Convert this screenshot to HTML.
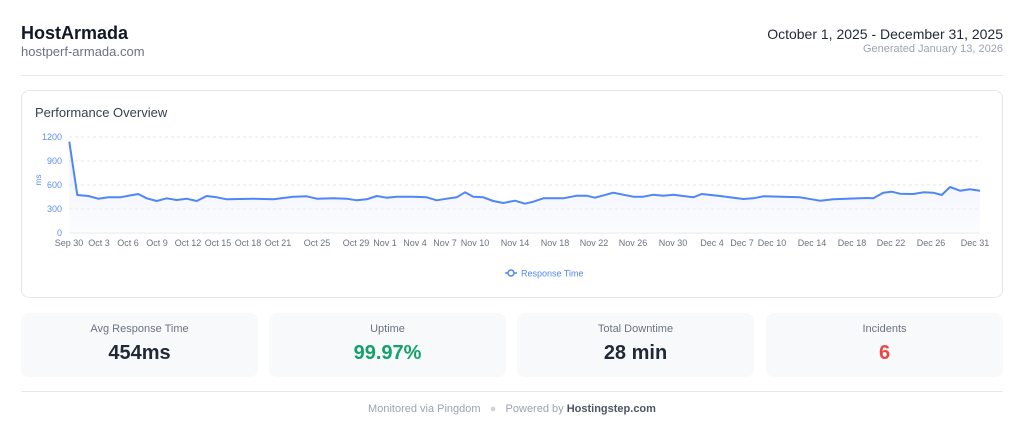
<!DOCTYPE html>
<html><head><meta charset="utf-8"><style>
*{margin:0;padding:0;box-sizing:border-box}
body{width:1024px;height:440px;background:#fff;font-family:"Liberation Sans",sans-serif;position:relative;overflow:hidden;color:#1f2937}
.a{position:absolute;white-space:nowrap}
.card{position:absolute;background:#f8f9fb;border-radius:8px;top:313px;height:64px;width:237px;text-align:center}
.card .l{position:absolute;top:10px;left:0;right:0;font-size:11px;color:#6b7280}
.card .v{position:absolute;top:29px;left:0;right:0;font-size:20px;font-weight:bold;color:#1f2937}
</style></head><body>
<div class="a" style="left:21px;top:23px;font-size:18px;font-weight:bold;color:#111827">HostArmada</div>
<div class="a" style="left:21px;top:44px;font-size:13px;color:#6b7280">hostperf-armada.com</div>
<div class="a" style="right:21px;top:26px;font-size:14px;color:#1f2937">October 1, 2025 - December 31, 2025</div>
<div class="a" style="right:21px;top:43px;font-size:11px;color:#9ca3af">Generated January 13, 2026</div>
<div class="a" style="left:21px;top:75px;width:982px;height:1px;background:#e5e7eb"></div>
<div class="a" style="left:21px;top:90px;width:982px;height:208px;border:1px solid #e5e7eb;border-radius:8px"></div>
<div class="a" style="left:35px;top:105px;font-size:13px;color:#374151">Performance Overview</div>
<svg class="a" style="left:0;top:0" width="1024" height="300" font-family="Liberation Sans, sans-serif">
<g stroke="#e5e7eb" stroke-dasharray="3,3" stroke-width="1">
<line x1="69" x2="980" y1="137" y2="137"/><line x1="69" x2="980" y1="161" y2="161"/><line x1="69" x2="980" y1="185" y2="185"/><line x1="69" x2="980" y1="209" y2="209"/></g>
<line x1="69" x2="980" y1="233" y2="233" stroke="#e5e7eb"/>
<g fill="#5b8def" font-size="9" text-anchor="end">
<text x="62" y="140">1200</text><text x="62" y="164">900</text><text x="62" y="188">600</text><text x="62" y="212">300</text><text x="62" y="236">0</text></g>
<text x="41" y="180" fill="#5b8def" font-size="8" text-anchor="middle" transform="rotate(-90 41 180)">ms</text>
<defs><linearGradient id="g" x1="0" y1="0" x2="0" y2="1"><stop offset="0" stop-color="#dfe6fb" stop-opacity=".7"/><stop offset="1" stop-color="#f3f5fc" stop-opacity=".3"/></linearGradient></defs>
<path fill="url(#g)" d="M69.3,141.7 L77.3,195 88.3,196 98.3,198.7 108.3,197.3 120,197.3 138.3,194 146.7,198.3 156.7,201 166.7,198.3 176.7,200 186.7,198.7 196.7,201 206.7,196 216.7,197.3 226.7,199.3 253.3,198.7 273.3,199.3 293.3,196.7 306.7,196.3 316.7,198.7 333.3,198.3 346.7,198.7 356.7,200.3 366.7,199.3 376.7,196 386.7,197.7 396.7,196.7 413.3,196.7 426.7,197.3 436.7,200.3 446.7,198.7 456.7,197.3 465,192.3 473.3,196.7 483.3,197.3 493.3,201 503.3,203 515,200.7 525,203.7 533.3,201.7 543.3,198.3 563.3,198.3 576.7,195.7 586.7,195.7 595,197.7 613.3,192.7 633.3,196.7 643.3,196.7 653.3,194.7 663.3,195.7 673.3,194.7 693.3,197.3 701.7,194 720,196 743.3,199 753.3,198.3 763.3,196.3 800,197.3 820,200.7 833.3,199.3 866.7,198 873.3,198.3 883.3,192.7 891.7,191.7 900,193.7 913.3,194 923.3,192.3 933.3,192.7 941.7,195 950,187 960,190.7 970,189.3 980,190.7 L980,233 L69.3,233 Z"/>
<polyline fill="none" stroke="#4f86f7" stroke-width="2" stroke-linejoin="round" points="69.3,141.7 77.3,195 88.3,196 98.3,198.7 108.3,197.3 120,197.3 138.3,194 146.7,198.3 156.7,201 166.7,198.3 176.7,200 186.7,198.7 196.7,201 206.7,196 216.7,197.3 226.7,199.3 253.3,198.7 273.3,199.3 293.3,196.7 306.7,196.3 316.7,198.7 333.3,198.3 346.7,198.7 356.7,200.3 366.7,199.3 376.7,196 386.7,197.7 396.7,196.7 413.3,196.7 426.7,197.3 436.7,200.3 446.7,198.7 456.7,197.3 465,192.3 473.3,196.7 483.3,197.3 493.3,201 503.3,203 515,200.7 525,203.7 533.3,201.7 543.3,198.3 563.3,198.3 576.7,195.7 586.7,195.7 595,197.7 613.3,192.7 633.3,196.7 643.3,196.7 653.3,194.7 663.3,195.7 673.3,194.7 693.3,197.3 701.7,194 720,196 743.3,199 753.3,198.3 763.3,196.3 800,197.3 820,200.7 833.3,199.3 866.7,198 873.3,198.3 883.3,192.7 891.7,191.7 900,193.7 913.3,194 923.3,192.3 933.3,192.7 941.7,195 950,187 960,190.7 970,189.3 980,190.7"/>
<g fill="#6b7280" font-size="9" text-anchor="middle">
<text x="69" y="246">Sep 30</text><text x="99" y="246">Oct 3</text><text x="128" y="246">Oct 6</text><text x="157" y="246">Oct 9</text><text x="188" y="246">Oct 12</text><text x="218" y="246">Oct 15</text><text x="248" y="246">Oct 18</text><text x="278" y="246">Oct 21</text><text x="317" y="246">Oct 25</text><text x="356" y="246">Oct 29</text><text x="385" y="246">Nov 1</text><text x="415" y="246">Nov 4</text><text x="445" y="246">Nov 7</text><text x="475" y="246">Nov 10</text><text x="515" y="246">Nov 14</text><text x="555" y="246">Nov 18</text><text x="594" y="246">Nov 22</text><text x="633" y="246">Nov 26</text><text x="673" y="246">Nov 30</text><text x="712" y="246">Dec 4</text><text x="742" y="246">Dec 7</text><text x="772" y="246">Dec 10</text><text x="812" y="246">Dec 14</text><text x="852" y="246">Dec 18</text><text x="891" y="246">Dec 22</text><text x="931" y="246">Dec 26</text><text x="975" y="246">Dec 31</text></g>
<line x1="505" x2="517" y1="273" y2="273" stroke="#4f86f7" stroke-width="1.5"/><circle cx="511" cy="273" r="3" fill="#fff" stroke="#4f86f7" stroke-width="1.5"/>
<text x="521" y="276.5" fill="#4f86f7" font-size="9">Response Time</text>
</svg>
<div class="card" style="left:21px"><div class="l">Avg Response Time</div><div class="v">454ms</div></div>
<div class="card" style="left:269px"><div class="l">Uptime</div><div class="v" style="color:#16a06a">99.97%</div></div>
<div class="card" style="left:517px"><div class="l">Total Downtime</div><div class="v">28 min</div></div>
<div class="card" style="left:766px"><div class="l">Incidents</div><div class="v" style="color:#ef4444">6</div></div>
<div class="a" style="left:21px;top:391px;width:982px;height:1px;background:#e5e7eb"></div>
<div class="a" style="left:0;right:0;top:403px;text-align:center;font-size:11px;color:#9ca3af">Monitored via Pingdom &nbsp;&nbsp;<span style="color:#d1d5db">●</span>&nbsp;&nbsp; Powered by <b style="color:#4b5563">Hostingstep.com</b></div>
</body></html>
